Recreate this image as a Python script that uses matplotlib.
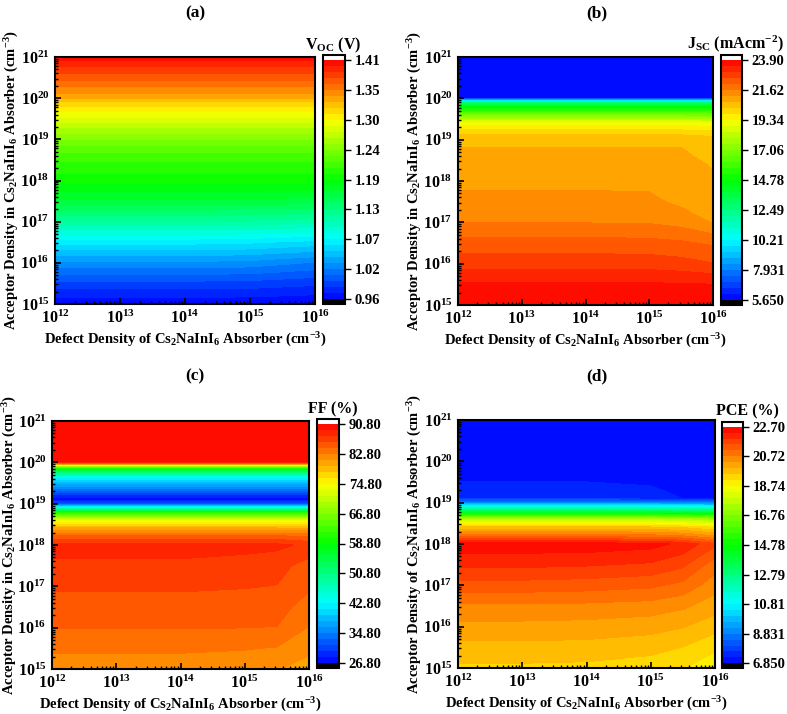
import numpy as np
import matplotlib
matplotlib.use("Agg")
import matplotlib.pyplot as plt
from matplotlib.colors import LinearSegmentedColormap

plt.rcParams['font.family'] = 'Liberation Serif'
plt.rcParams['font.weight'] = 'bold'
plt.rcParams['axes.labelweight'] = 'bold'
plt.rcParams['mathtext.fontset'] = 'custom'
plt.rcParams['mathtext.rm'] = 'Liberation Serif:bold'
plt.rcParams['mathtext.it'] = 'Liberation Serif:italic:bold'
plt.rcParams['mathtext.bf'] = 'Liberation Serif:bold'
plt.rcParams['mathtext.default'] = 'rm'

# grid: log10 of defect density (x) and acceptor density (y)
defect_exp = [12, 13, 14, 15, 15.5, 16]
acceptor_exp = [15, 15.5, 16, 16.5, 17, 17.5, 18, 18.2, 18.4, 18.6, 18.8,
                19, 19.1, 19.2, 19.4, 19.6, 19.8, 19.9, 20, 20.5, 21]

# Voc (V), rows follow acceptor_exp, columns follow defect_exp
voc = [
    [0.962, 0.962, 0.962, 0.962, 0.961, 0.960],
    [0.990, 0.990, 0.990, 0.989, 0.987, 0.985],
    [1.025, 1.025, 1.025, 1.023, 1.019, 1.015],
    [1.065, 1.065, 1.065, 1.063, 1.060, 1.057],
    [1.115, 1.115, 1.115, 1.114, 1.112, 1.110],
    [1.160, 1.160, 1.160, 1.159, 1.158, 1.157],
    [1.190, 1.190, 1.190, 1.190, 1.189, 1.189],
    [1.197, 1.197, 1.197, 1.197, 1.197, 1.197],
    [1.205, 1.205, 1.205, 1.205, 1.205, 1.205],
    [1.215, 1.215, 1.215, 1.215, 1.215, 1.215],
    [1.228, 1.228, 1.228, 1.228, 1.228, 1.228],
    [1.242, 1.242, 1.242, 1.242, 1.242, 1.242],
    [1.250, 1.250, 1.250, 1.250, 1.250, 1.250],
    [1.258, 1.258, 1.258, 1.258, 1.258, 1.258],
    [1.275, 1.275, 1.275, 1.275, 1.275, 1.275],
    [1.293, 1.293, 1.293, 1.293, 1.293, 1.293],
    [1.310, 1.310, 1.310, 1.310, 1.310, 1.310],
    [1.320, 1.320, 1.320, 1.320, 1.320, 1.320],
    [1.335, 1.335, 1.335, 1.335, 1.335, 1.335],
    [1.370, 1.370, 1.370, 1.370, 1.370, 1.370],
    [1.405, 1.405, 1.405, 1.405, 1.405, 1.405],
]

# Jsc (mA/cm2)
jsc = [
    [23.70, 23.70, 23.70, 23.70, 23.68, 23.65],
    [23.50, 23.50, 23.50, 23.50, 23.48, 23.45],
    [22.80, 22.80, 22.80, 22.78, 22.70, 22.55],
    [22.25, 22.25, 22.25, 22.22, 22.15, 22.00],
    [21.60, 21.60, 21.60, 21.58, 21.45, 21.14],
    [21.30, 21.30, 21.30, 21.28, 21.05, 20.95],
    [21.05, 21.05, 21.05, 21.03, 20.95, 20.78],
    [20.95, 20.95, 20.95, 20.93, 20.88, 20.72],
    [20.88, 20.88, 20.88, 20.86, 20.82, 20.68],
    [20.80, 20.80, 20.80, 20.79, 20.76, 20.62],
    [20.72, 20.72, 20.72, 20.72, 20.71, 20.55],
    [20.55, 20.55, 20.55, 20.55, 20.50, 20.40],
    [20.35, 20.35, 20.35, 20.35, 20.30, 20.20],
    [20.00, 20.00, 20.00, 20.00, 19.95, 19.90],
    [19.10, 19.10, 19.10, 19.10, 19.05, 19.00],
    [16.80, 16.80, 16.80, 16.80, 16.75, 16.70],
    [14.30, 14.30, 14.30, 14.30, 14.25, 14.20],
    [12.50, 12.50, 12.50, 12.50, 12.45, 12.40],
    [6.00, 6.00, 6.00, 6.00, 6.00, 6.00],
    [5.75, 5.75, 5.75, 5.75, 5.75, 5.75],
    [5.75, 5.75, 5.75, 5.75, 5.75, 5.75],
]

# FF (%)
ff = [
    [82.00, 82.00, 82.00, 81.80, 81.30, 80.50],
    [83.10, 83.10, 83.05, 82.90, 82.70, 81.60],
    [84.45, 84.45, 84.45, 84.42, 84.35, 82.70],
    [85.20, 85.20, 85.20, 85.20, 85.10, 83.60],
    [86.30, 86.30, 86.30, 86.10, 85.95, 84.70],
    [87.30, 87.30, 87.30, 87.00, 86.60, 85.30],
    [88.20, 88.20, 88.20, 88.10, 88.00, 87.20],
    [85.00, 85.00, 85.00, 85.00, 85.00, 84.50],
    [80.00, 80.00, 80.00, 80.00, 80.00, 79.80],
    [73.00, 73.00, 73.00, 73.00, 73.00, 72.80],
    [59.00, 59.00, 59.00, 59.00, 59.00, 59.00],
    [33.00, 33.00, 33.00, 33.00, 33.00, 33.00],
    [27.60, 27.60, 27.60, 27.60, 27.60, 27.60],
    [30.00, 30.00, 30.00, 30.00, 30.00, 30.00],
    [36.00, 36.00, 36.00, 36.00, 36.00, 36.00],
    [42.00, 42.00, 42.00, 42.00, 42.00, 42.00],
    [55.00, 55.00, 55.00, 55.00, 55.00, 55.00],
    [66.00, 66.00, 66.00, 66.00, 66.00, 66.00],
    [89.30, 89.30, 89.30, 89.30, 89.30, 89.30],
    [89.70, 89.70, 89.70, 89.70, 89.70, 89.70],
    [89.80, 89.80, 89.80, 89.80, 89.80, 89.80],
]

# PCE (%)
pce = [
    [19.45, 19.45, 19.42, 19.30, 19.15, 18.90],
    [19.80, 19.80, 19.78, 19.68, 19.52, 19.20],
    [20.20, 20.20, 20.17, 20.08, 19.95, 19.70],
    [20.65, 20.65, 20.62, 20.55, 20.40, 20.10],
    [21.35, 21.35, 21.30, 21.20, 21.00, 20.50],
    [22.00, 22.00, 21.95, 21.85, 21.60, 20.90],
    [22.55, 22.55, 22.55, 22.45, 22.20, 21.60],
    [20.90, 20.90, 20.90, 20.85, 20.70, 20.30],
    [19.70, 19.70, 19.70, 19.65, 19.50, 19.20],
    [17.60, 17.60, 17.60, 17.55, 17.40, 17.20],
    [13.30, 13.30, 13.30, 13.25, 13.10, 13.00],
    [9.00, 9.00, 9.00, 8.95, 8.90, 8.80],
    [7.60, 7.60, 7.60, 7.45, 7.24, 7.22],
    [7.50, 7.50, 7.50, 7.35, 7.20, 7.18],
    [7.35, 7.35, 7.35, 7.25, 7.10, 7.08],
    [7.15, 7.15, 7.15, 7.12, 7.08, 7.06],
    [7.10, 7.10, 7.10, 7.08, 7.06, 7.05],
    [7.05, 7.05, 7.05, 7.05, 7.05, 7.05],
    [7.05, 7.05, 7.05, 7.05, 7.05, 7.05],
    [7.00, 7.00, 7.00, 7.00, 7.00, 7.00],
    [6.95, 6.95, 6.95, 6.95, 6.95, 6.95],
]

voc_ticks = ['0.96', '1.02', '1.07', '1.13', '1.19', '1.24', '1.30', '1.35', '1.41']
jsc_ticks = ['5.650', '7.931', '10.21', '12.49', '14.78', '17.06', '19.34', '21.62', '23.90']
ff_ticks = ['26.80', '34.80', '42.80', '50.80', '58.80', '66.80', '74.80', '82.80', '90.80']
pce_ticks = ['6.850', '8.831', '10.81', '12.79', '14.78', '16.76', '18.74', '20.72', '22.70']

rainbow = LinearSegmentedColormap.from_list(
    'rb', ['#0000ff', '#00ffff', '#00ff00', '#ffff00', '#ff0000'])
rainbow.set_under('black')
rainbow.set_over('white')

W, H = 787, 714
fig = plt.figure(figsize=(W / 100, H / 100), dpi=100)


def box(l, t, r, b):
    return [l / W, 1 - b / H, (r - l) / W, (b - t) / H]


panels = [
    # data, ticks, lo, hi, axes box, cbar box, title, title pos, cbar label, label pos,
    # ylabel word, ylabel right edge (px)
    (voc, voc_ticks, 0.96, 1.41, (55, 57, 315, 304), (323, 55, 345, 304),
     '(a)', (195, 13), 'V$_{OC}$ (V)', (333, 45), 'in', 21),
    (jsc, jsc_ticks, 5.65, 23.90, (458, 57, 713, 305), (721, 55, 742, 305),
     '(b)', (597, 13), 'J$_{SC}$ (mAcm$^{-2}$)', (735, 44), 'in', 424),
    (ff, ff_ticks, 26.80, 90.80, (52, 421, 309, 669), (317, 419, 339, 668),
     '(c)', (195, 376), 'FF (%)', (333, 409), 'in', 19),
    (pce, pce_ticks, 6.85, 22.70, (458, 420, 715, 668), (722, 422, 743, 668),
     '(d)', (597, 376), 'PCE (%)', (747, 411), 'of', 424),
]

X, Y = np.meshgrid(defect_exp, acceptor_exp)
xminor = [n + np.log10(k) for n in range(12, 16) for k in range(2, 10)]
yminor = [n + np.log10(k) for n in range(15, 21) for k in range(2, 10)]

for Z, labels, lo, hi, abox, cbox, title, tpos, clab, cpos, word, ylx in panels:
    ax = fig.add_axes(box(*abox))
    levels = np.linspace(lo, hi, 41)
    cs = ax.contourf(X, Y, np.array(Z), levels=levels, cmap=rainbow, extend='both')
    ax.set_xlim(12, 16)
    ax.set_ylim(15, 21)
    ax.set_xticks(range(12, 17))
    ax.set_xticklabels(['$10^{%d}$' % n for n in range(12, 17)])
    ax.set_yticks(range(15, 22))
    ax.set_yticklabels(['$10^{%d}$' % n for n in range(15, 22)])
    ax.set_xticks(xminor, minor=True)
    ax.set_yticks(yminor, minor=True)
    ax.tick_params(which='both', direction='in', top=False, right=False, labelsize=11.5)
    ax.tick_params(which='major', length=4.5, width=1.2, pad=4)
    ax.tick_params(which='minor', length=2.5, width=1)
    for s in ax.spines.values():
        s.set_linewidth(1.5)
    ax.set_xlabel('Defect Density of Cs$_2$NaInI$_6$ Absorber (cm$^{-3}$)',
                  fontsize=10.5, labelpad=3)
    ax.set_ylabel('Acceptor Density %s Cs$_2$NaInI$_6$ Absorber (cm$^{-3}$)' % word,
                  fontsize=10.5)
    ax.yaxis.set_label_coords((ylx - abox[0]) / (abox[2] - abox[0]), 0.5)

    cax = fig.add_axes(box(*cbox))
    cb = fig.colorbar(cs, cax=cax, extendrect=True, extendfrac=0.02,
                      ticks=np.linspace(lo, hi, 9))
    cb.set_ticklabels(labels)
    cb.outline.set_linewidth(1.5)
    cax.tick_params(direction='out', length=4, width=1, labelsize=10.5, pad=3)
    cax.minorticks_off()

    fig.text(tpos[0] / W, 1 - tpos[1] / H, title, ha='center', va='center', fontsize=12.5)
    fig.text(cpos[0] / W, 1 - cpos[1] / H, clab, ha='center', va='center', fontsize=11.5)

fig.savefig('out.png', dpi=100)
